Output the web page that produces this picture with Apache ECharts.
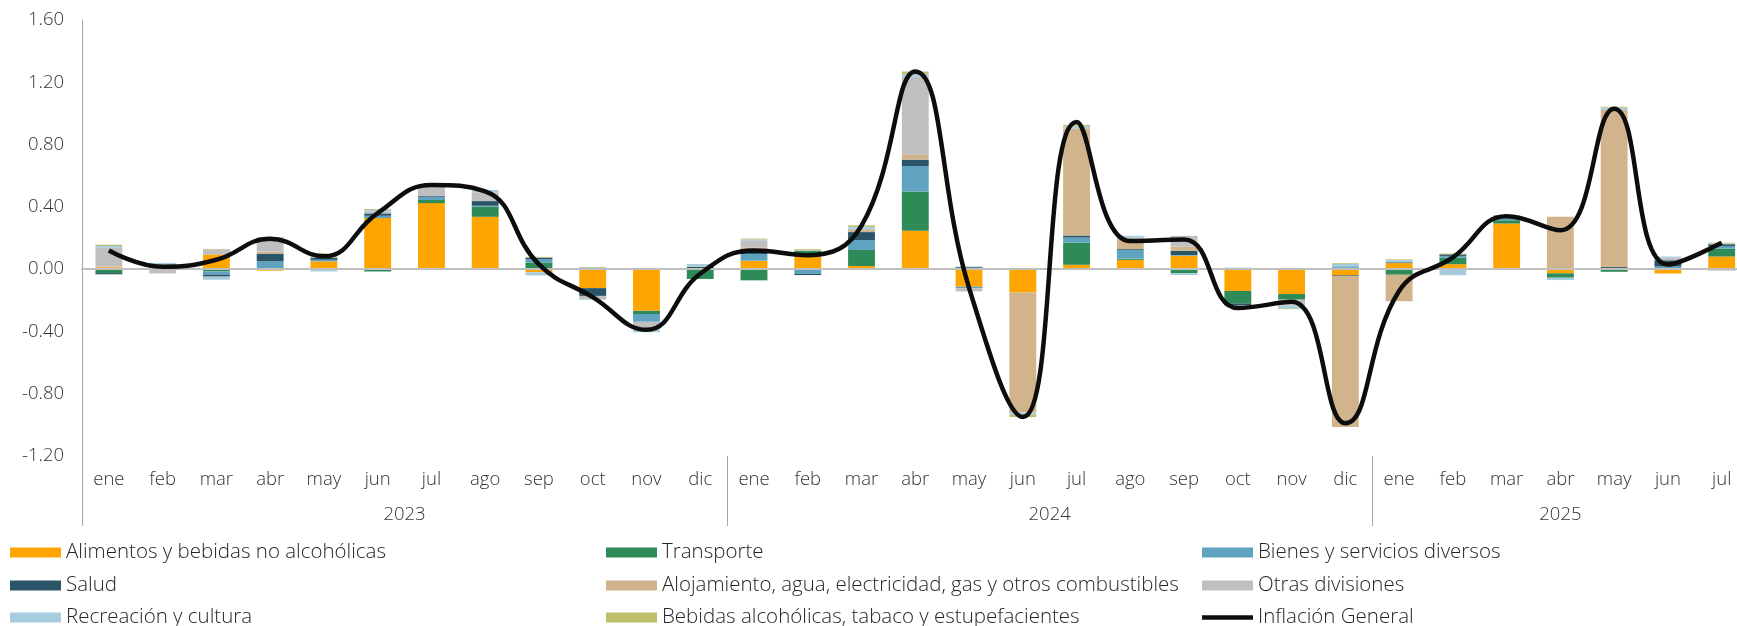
<!DOCTYPE html>
<html><head><meta charset="utf-8">
<script src="https://cdn.jsdelivr.net/npm/echarts@6/dist/echarts.min.js"></script>
<style>html,body{margin:0;padding:0;background:#fff}#chart{width:1737px;height:626px}</style>
</head><body><div id="chart"></div>
<script>
// ---- data ----
const monthNames = ['ene','feb','mar','abr','may','jun','jul','ago','sep','oct','nov','dic'];
const years = ['2023','2024','2025'];
const monthsPerYear = [12, 12, 7];

const alimentos   = [0.012,0,0.092,-0.01,0.05,0.328,0.424,0.336,-0.02,-0.122,-0.268,-0.005, 0.054,0.08,0.02,0.246,-0.113,-0.15,0.028,0.06,0.086,-0.14,-0.16,-0.04, 0.039,0.032,0.293,-0.027,0,-0.028,0.081];
const transporte  = [-0.025,0.02,-0.015,0,0,-0.015,0.02,0.066,0.043,0.01,-0.02,-0.058, -0.072,0.038,0.103,0.253,0.01,0,0.143,0.008,-0.026,-0.08,-0.036,0.008, -0.036,0.043,0.021,-0.028,-0.017,0,0.051];
const bienes      = [0,0.01,-0.02,0.05,0.01,0.015,0.02,0.005,0.021,0,-0.05,0.005, 0.043,-0.03,0.064,0.163,-0.01,0,0.032,0.056,0.005,0,0,0.01, 0,0.01,0.013,0,0,0.017,0.015];
const salud       = [-0.008,0,-0.013,0.05,0.012,0.015,0.005,0.03,0.01,-0.05,0,0.01, 0.028,-0.008,0.051,0.041,0.005,0,0.013,0.005,0.026,-0.013,0,-0.006, 0.005,0.01,0,0,0.013,0.04,0.013];
const alojamiento = [0.005,0,0.005,0.013,0.005,0,0,0,0,0,0,0.003, 0.015,0,0.013,0.034,0,-0.77,0.687,0.058,0.028,0,0,-0.968, -0.17,0,0,0.336,1.01,0,0];
const otras       = [0.12,-0.028,0.03,0.08,0.02,0.013,0.06,0.054,0,-0.02,-0.05,0, 0.045,0.005,0.008,0.5,-0.02,0,0,0.015,0.069,-0.005,-0.038,0, 0,0,0,0,0,0.017,-0.01];
const recreacion  = [0.012,0.01,-0.02,0.013,-0.015,0.01,0.013,0.017,-0.02,-0.005,-0.017,0.015, 0.006,0,0.013,0.017,0,-0.015,0.013,0.012,-0.012,0.01,-0.02,0.015, 0.015,-0.039,0.013,-0.015,0.015,0.007,0.005];
const bebidas     = [0.008,0,0.003,0,0.005,0.005,0,0,0.005,0.002,0,0, 0.005,0.005,0.01,0.015,0,-0.015,0.01,0,0,0,-0.003,0.005, 0.004,0.005,0.007,0,0.005,0,0.005];
const inflacion   = [0.12,0.015,0.06,0.195,0.082,0.36,0.54,0.50,0.03,-0.18,-0.39,-0.03, 0.12,0.09,0.28,1.27,-0.12,-0.95,0.945,0.18,0.19,-0.25,-0.21,-0.99, -0.14,0.075,0.34,0.25,1.03,0.03,0.17];

const seriesNames = ['Alimentos y bebidas no alcohólicas','Transporte','Bienes y servicios diversos','Salud',
  'Alojamiento, agua, electricidad, gas y otros combustibles','Otras divisiones','Recreación y cultura',
  'Bebidas alcohólicas, tabaco y estupefacientes'];
const seriesData = [alimentos, transporte, bienes, salud, alojamiento, otras, recreacion, bebidas];
const seriesColors = ['#FFA500','#2E8B57','#5FA3C0','#2A5468','#D2B48C','#BFBFBF','#A7CCDD','#BDBF6B'];
const lineName = 'Inflación General';
const legendOrder = [seriesNames[0], seriesNames[1], seriesNames[2], seriesNames[3], seriesNames[4], seriesNames[5], seriesNames[6], seriesNames[7], lineName];

// ---- build categories ----
const categories = [];
const yearLabels = [];
const boundaries = [];
let pos = 0;
years.forEach((y, k) => {
  const n = monthsPerYear[k];
  boundaries.push(pos);
  for (let i = 0; i < n; i++) {
    categories.push(monthNames[i]);
    let lab = '';
    if (n % 2 === 0 && i === n / 2) { lab = '{s|' + y + '}'; }
    if (n % 2 === 1 && i === (n - 1) / 2) { lab = '{n|' + y + '}'; }
    yearLabels.push(lab);
  }
  pos += n;
});

const FONT = '"Open Sans", Lato, sans-serif';
const FW = 300;
const bandW = 53.76;
const chart = echarts.init(document.getElementById('chart'));

const series = seriesNames.map((name, i) => ({
  name, type: 'bar', stack: 'total', barWidth: '50%', xAxisIndex: 0,
  data: seriesData[i], itemStyle: { color: seriesColors[i] },
  emphasis: { disabled: true }
}));
series.push({
  name: lineName, type: 'line', xAxisIndex: 0, data: inflacion, smooth: 0.45,
  symbol: 'none', showSymbol: false, z: 20,
  lineStyle: { color: '#0D0D0D', width: 4.5 }, itemStyle: { color: '#0D0D0D' },
  emphasis: { disabled: true }
});

const colLeft = [10, 606, 1202];
const rowTop = [542, 575, 607];
const legends = legendOrder.map((name, k) => {
  const isLine = name === lineName;
  return {
    orient: 'horizontal', left: colLeft[k % 3], top: rowTop[Math.floor(k / 3)],
    itemWidth: 51, itemHeight: isLine ? 4.5 : 10, padding: 0,
    textStyle: { fontFamily: FONT, fontWeight: FW, fontSize: 20.5, color: '#262626', lineHeight: 20 },
    selectedMode: false,
    data: [{ name, icon: 'rect', itemStyle: isLine ? { color: '#0D0D0D' } : undefined }]
  };
});

const axisTxt = { fontFamily: FONT, fontWeight: FW, fontSize: 18.5, color: '#333333' };

chart.setOption({
  animation: false,
  backgroundColor: '#fff',
  grid: { left: 82, top: 20, width: bandW * 31, height: 436, containLabel: false, outerBoundsMode: 'none' },
  legend: legends,
  xAxis: [
    { type: 'category', data: categories, position: 'bottom',
      axisLine: { show: false, onZero: false }, axisTick: { show: false },
      axisLabel: Object.assign({ interval: 0, margin: 14 }, axisTxt),
      splitLine: { show: false } },
    { type: 'category', data: yearLabels, position: 'bottom',
      axisLine: { show: false, onZero: false },
      axisTick: { show: true, length: 70, interval: (idx) => boundaries.indexOf(idx) >= 0,
        lineStyle: { color: '#A6A6A6', width: 1 } },
      axisLabel: Object.assign({ interval: 0, margin: 49,
        rich: { s: Object.assign({ padding: [0, bandW, 0, 0] }, axisTxt), n: Object.assign({}, axisTxt) } }, axisTxt),
      splitLine: { show: false } },
    { type: 'category', data: categories, position: 'bottom', z: 10,
      axisLine: { show: true, onZero: true, lineStyle: { color: '#BFBFBF', width: 2 } },
      axisTick: { show: false }, axisLabel: { show: false }, splitLine: { show: false } }
  ],
  yAxis: {
    type: 'value', min: -1.2, max: 1.6, interval: 0.4,
    axisLine: { show: true, lineStyle: { color: '#A6A6A6', width: 1 } },
    axisTick: { show: false }, splitLine: { show: false },
    axisLabel: Object.assign({ margin: 18, formatter: v => v.toFixed(2) }, axisTxt)
  },
  series
});
</script></body></html>
